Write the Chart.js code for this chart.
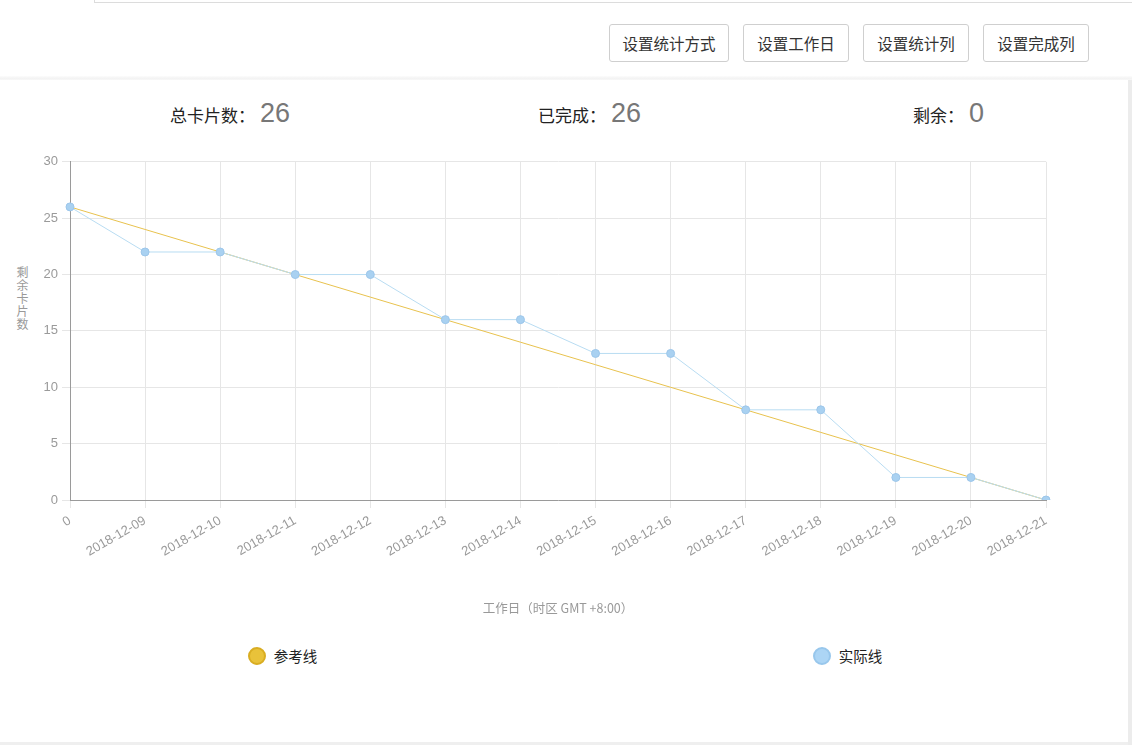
<!DOCTYPE html>
<html>
<head>
<meta charset="utf-8">
<script src="https://cdn.jsdelivr.net/npm/chart.js@4/dist/chart.umd.min.js"></script>
<style>
  html, body { margin:0; padding:0; background:#fff; width:1132px; height:745px; overflow:hidden;
    font-family: "Liberation Sans", Arial, "Noto Sans CJK SC", sans-serif; }
  .tabline { position:absolute; left:95px; top:2px; width:1037px; height:0; border-top:1px solid #dcdcdc; }
  .tabedge { position:absolute; left:94px; top:0; width:0; height:3px; border-left:1px solid #dcdcdc; }
  .sep { position:absolute; left:0; top:76px; width:1132px; height:4px;
    background: linear-gradient(#fcfcfc, #f3f3f3 60%, #f8f8f8); }
  .rightedge { position:absolute; left:1128px; top:80px; width:4px; height:665px; background:#ececec; }
  .bottomedge { position:absolute; left:0; top:742px; width:1128px; height:3px; background:#efefef; }
  .btn { position:absolute; top:24px; height:36px; border:1px solid #cfcfcf; border-radius:3px; background:#fff;
    font-size:15.5px; color:#333; line-height:36px; text-align:center; box-sizing:content-box;
    font-family: "Noto Sans CJK SC", sans-serif; }
  .stat { position:absolute; top:98px; height:34px; white-space:nowrap; }
  .stat .lab { font-size:17px; color:#222; font-family:"Noto Sans CJK SC", sans-serif; vertical-align:baseline; }
  .stat .num { font-size:27px; color:#777; margin-left:5px; font-family:"Liberation Sans", Arial, sans-serif; vertical-align:baseline; }
  #wrap { position:absolute; left:0; top:150px; width:1080px; height:480px; }
  .ytitle { position:absolute; left:16px; top:265px; width:13px; font-size:12px; line-height:13px; color:#999;
    font-family:"Noto Sans CJK SC", sans-serif; text-align:center; }
  .legend { position:absolute; top:645px; left:0; width:1130px; display:flex; }
  .legend .item { flex:1; display:flex; justify-content:center; align-items:center; font-size:14.5px; color:#222;
    font-family:"Noto Sans CJK SC", sans-serif; }
  .legend .dot { width:14px; height:14px; border-radius:50%; margin-right:8px; border:2px solid; }
</style>
</head>
<body>
<div class="tabedge"></div>
<div class="tabline"></div>
<div class="btn" style="left:609px;width:118px;">设置统计方式</div>
<div class="btn" style="left:743px;width:104px;">设置工作日</div>
<div class="btn" style="left:863px;width:104px;">设置统计列</div>
<div class="btn" style="left:983px;width:104px;">设置完成列</div>
<div class="sep"></div>
<div class="rightedge"></div>
<div class="bottomedge"></div>

<div class="stat" style="left:170px;"><span class="lab">总卡片数：</span><span class="num">26</span></div>
<div class="stat" style="left:538px;"><span class="lab">已完成：</span><span class="num">26</span></div>
<div class="stat" style="left:913px;"><span class="lab">剩余：</span><span class="num">0</span></div>

<div class="ytitle">剩<br>余<br>卡<br>片<br>数</div>
<div id="wrap"><canvas id="c"></canvas></div>

<div class="legend">
  <div class="item"><span class="dot" style="background:#e9c23a;border-color:#d9ad22;"></span>参考线</div>
  <div class="item"><span class="dot" style="background:#acd5f5;border-color:#98c7ec;"></span>实际线</div>
</div>

<script>
const categories = ["0","2018-12-09","2018-12-10","2018-12-11","2018-12-12","2018-12-13","2018-12-14",
  "2018-12-15","2018-12-16","2018-12-17","2018-12-18","2018-12-19","2018-12-20","2018-12-21"];
const referenceValues = [26,24,22,20,18,16,14,12,10,8,6,4,2,0];
const actualValues = [26,22,22,20,20,16,16,13,13,8,8,2,2,0];
const seriesNames = ["参考线","实际线"];
const xAxisTitle = "工作日（时区 GMT +8:00）";

new Chart(document.getElementById('c'), {
  type: 'line',
  data: {
    labels: categories,
    datasets: [
      { label: seriesNames[0], data: referenceValues, borderColor: '#e8c24e', backgroundColor: '#e8c24e',
        borderWidth: 1, pointRadius: 0, fill: false, tension: 0, order: 2 },
      { label: seriesNames[1], data: actualValues, borderColor: '#b8dcf2', backgroundColor: '#a9d1f1',
        pointBorderColor: '#9cc6ea', pointBorderWidth: 1, borderWidth: 1, pointRadius: 4, fill: false, tension: 0, order: 1 }
    ]
  },
  options: {
    responsive: true, maintainAspectRatio: false, animation: false,
    layout: { padding: { top: 10, right: 34, left: 0, bottom: 0 } },
    plugins: { legend: { display: false }, tooltip: { enabled: false } },
    scales: {
      x: {
        afterFit: s => { s.height = 130; },
        grid: { color: '#e6e6e6', tickLength: 8, drawTicks: true, tickColor: '#e6e6e6' },
        border: { color: '#9a9a9a' },
        ticks: { color: '#9a9a9a', font: { size: 13, family: '"Liberation Sans", Arial, sans-serif' },
          minRotation: 30, maxRotation: 30, autoSkip: false, padding: 5 },
        title: { display: true, text: xAxisTitle, color: '#999',
          font: { size: 12.5, family: '"Noto Sans CJK SC", sans-serif' }, padding: { top: 0, bottom: 14 } }
      },
      y: {
        min: 0, max: 30,
        afterFit: s => { s.width = 70; },
        grid: { color: '#e6e6e6', tickLength: 8, tickColor: '#e6e6e6' },
        border: { color: '#9a9a9a' },
        ticks: { stepSize: 5, color: '#9a9a9a', font: { size: 13, family: '"Liberation Sans", Arial, sans-serif' }, padding: 4 }
      }
    }
  }
});
</script>
</body>
</html>
